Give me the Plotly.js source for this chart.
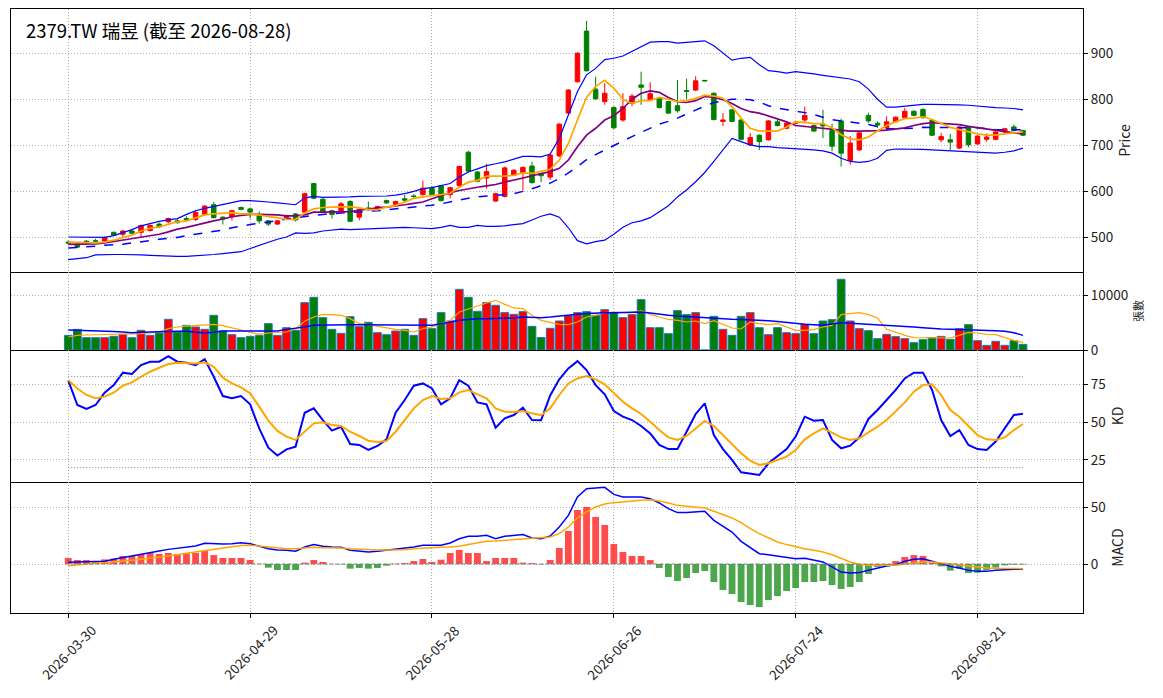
<!DOCTYPE html>
<html>
<head>
<meta charset="utf-8">
<script src="https://cdn.plot.ly/plotly-3.0.1.min.js"></script>
<style>
  html, body { margin: 0; padding: 0; background: #fff; }
  #chart { width: 1163px; height: 698px; }
</style>
</head>
<body>
<div id="chart"></div>
<script>
/* global Plotly */
const dates = [
  "2026-03-30", "2026-03-31", "2026-04-01", "2026-04-02", "2026-04-07", "2026-04-08", "2026-04-09", "2026-04-10",
  "2026-04-13", "2026-04-14", "2026-04-15", "2026-04-16", "2026-04-17", "2026-04-20", "2026-04-21", "2026-04-22",
  "2026-04-23", "2026-04-24", "2026-04-27", "2026-04-28", "2026-04-29", "2026-04-30", "2026-05-04", "2026-05-05",
  "2026-05-06", "2026-05-07", "2026-05-08", "2026-05-11", "2026-05-12", "2026-05-13", "2026-05-14", "2026-05-15",
  "2026-05-18", "2026-05-19", "2026-05-20", "2026-05-21", "2026-05-22", "2026-05-25", "2026-05-26", "2026-05-27",
  "2026-05-28", "2026-05-29", "2026-06-01", "2026-06-02", "2026-06-03", "2026-06-04", "2026-06-05", "2026-06-08",
  "2026-06-09", "2026-06-10", "2026-06-11", "2026-06-12", "2026-06-15", "2026-06-16", "2026-06-17", "2026-06-18",
  "2026-06-22", "2026-06-23", "2026-06-24", "2026-06-25", "2026-06-26", "2026-06-29", "2026-06-30", "2026-07-01",
  "2026-07-02", "2026-07-03", "2026-07-06", "2026-07-07", "2026-07-08", "2026-07-09", "2026-07-10", "2026-07-13",
  "2026-07-14", "2026-07-15", "2026-07-16", "2026-07-17", "2026-07-20", "2026-07-21", "2026-07-22", "2026-07-23",
  "2026-07-24", "2026-07-27", "2026-07-28", "2026-07-29", "2026-07-30", "2026-07-31", "2026-08-03", "2026-08-04",
  "2026-08-05", "2026-08-06", "2026-08-07", "2026-08-10", "2026-08-11", "2026-08-12", "2026-08-13", "2026-08-14",
  "2026-08-17", "2026-08-18", "2026-08-19", "2026-08-20", "2026-08-21", "2026-08-24", "2026-08-25", "2026-08-26",
  "2026-08-27", "2026-08-28",
];
const tickDates = ["2026-03-30", "2026-04-29", "2026-05-28", "2026-06-26", "2026-07-24", "2026-08-21"];

const open = [
  490, 485, 492, 493, 492, 511, 507, 514, 511, 515, 529, 534, 536, 541, 539, 550, 571, 544, 545, 565,
  562, 547, 536, 529, 543, 551, 555, 617, 583, 558, 556, 578, 544, 564, 564, 580, 572, 584, 590, 593,
  607, 612, 593, 613, 685, 642, 629, 579, 589, 635, 641, 655, 639, 631, 677, 770, 838, 948, 822, 795,
  782, 755, 791, 831, 799, 802, 795, 786, 819, 820, 841, 813, 752, 777, 755, 701, 722, 712, 751, 737,
  748, 755, 743, 746, 732, 753, 667, 690, 765, 748, 738, 751, 760, 774, 778, 754, 712, 712, 694, 740,
  703, 713, 713, 729, 740, 732,
];
const high = [
  493, 487, 494, 497, 502, 513, 516, 517, 528, 528, 532, 543, 541, 546, 560, 570, 577, 546, 560, 567,
  564, 556, 538, 537, 549, 553, 597, 618, 585, 560, 577, 581, 563, 578, 569, 582, 580, 592, 594, 623,
  612, 614, 610, 656, 688, 644, 660, 597, 654, 648, 654, 664, 641, 681, 748, 822, 902, 970, 849, 835,
  785, 813, 812, 860, 837, 804, 797, 842, 845, 850, 841, 815, 770, 779, 757, 727, 724, 755, 756, 750,
  752, 784, 745, 777, 747, 758, 720, 729, 771, 752, 763, 763, 781, 776, 780, 756, 727, 725, 742, 742,
  722, 726, 731, 738, 745, 734,
];
const low = [
  485, 477, 487, 489, 490, 503, 501, 507, 501, 513, 520, 530, 530, 535, 536, 548, 541, 528, 537, 559,
  541, 530, 525, 527, 541, 535, 553, 583, 553, 541, 554, 533, 537, 558, 562, 573, 570, 576, 585, 591,
  591, 578, 585, 610, 642, 620, 606, 577, 587, 633, 602, 617, 620, 625, 675, 768, 836, 860, 799, 788,
  736, 751, 785, 788, 797, 780, 768, 771, 800, 818, 839, 754, 742, 750, 711, 699, 690, 710, 741, 735,
  746, 748, 729, 716, 687, 654, 658, 688, 749, 738, 732, 749, 758, 763, 758, 720, 707, 690, 692, 696,
  701, 708, 711, 727, 730, 720,
];
const close = [
  488, 479, 488, 492, 500, 505, 514, 509, 526, 526, 523, 541, 532, 538, 554, 568, 543, 540, 558, 561,
  555, 536, 529, 536, 547, 538, 595, 585, 556, 550, 573, 535, 561, 560, 567, 575, 578, 581, 589, 607,
  593, 580, 608, 654, 644, 622, 643, 595, 651, 646, 652, 619, 634, 679, 746, 820, 900, 862, 801, 813,
  738, 784, 807, 826, 812, 782, 770, 775, 817, 840, 840, 756, 755, 752, 713, 717, 708, 753, 743, 748,
  750, 765, 731, 742, 698, 683, 705, 727, 753, 744, 751, 761, 774, 765, 760, 722, 719, 707, 740, 701,
  720, 718, 729, 736, 732, 722,
];

const ma5 = [
  490, 490, 489, 488, 490, 494, 500, 505, 514, 520, 523, 529, 534, 536, 542, 549, 551, 553, 554, 551,
  551, 549, 545, 543, 539, 539, 553, 562, 565, 566, 566, 567, 564, 561, 560, 566, 569, 577, 585, 588,
  590, 593, 596, 609, 620, 624, 633, 633, 633, 635, 640, 639, 643, 648, 668, 704, 755, 804, 828, 841,
  824, 800, 791, 797, 797, 804, 800, 795, 797, 802, 809, 807, 802, 784, 759, 737, 731, 731, 731, 740,
  751, 750, 747, 747, 738, 723, 714, 712, 718, 731, 743, 751, 758, 759, 762, 756, 747, 739, 734, 729,
  725, 722, 722, 725, 727, 729,
];
const ma10 = [
  485, 485, 485, 486, 488, 491, 494, 497, 500, 504, 507, 512, 518, 522, 527, 531, 536, 540, 545, 548,
  550, 550, 550, 549, 547, 547, 549, 555, 555, 555, 556, 556, 559, 562, 564, 566, 568, 571, 574, 577,
  584, 591, 597, 602, 606, 609, 612, 615, 620, 624, 629, 634, 638, 643, 650, 668, 697, 722, 737, 755,
  764, 780, 800, 813, 818, 815, 804, 795, 793, 797, 806, 804, 799, 791, 780, 773, 770, 764, 758, 751,
  743, 741, 739, 737, 736, 733, 731, 731, 731, 732, 733, 735, 738, 743, 747, 749, 748, 747, 745, 741,
  738, 735, 732, 730, 727, 725,
];
const ma20 = [
  477, 478, 480, 481, 483, 484, 485, 488, 490, 493, 496, 498, 500, 504, 507, 510, 512, 516, 521, 525,
  528, 531, 534, 537, 540, 543, 545, 548, 550, 552, 553, 554, 555, 556, 558, 560, 562, 564, 566, 567,
  570, 573, 577, 582, 585, 588, 590, 591, 593, 595, 600, 606, 612, 618, 628, 640, 654, 669, 680, 690,
  700, 709, 719, 728, 737, 746, 752, 759, 768, 777, 785, 793, 797, 800, 800, 799, 794, 786, 781, 777,
  774, 771, 767, 761, 756, 753, 751, 748, 745, 740, 736, 736, 736, 737, 739, 739, 739, 739, 739, 739,
  738, 736, 734, 734, 734, 734,
];
const bbUpper = [
  501, 501, 500, 500, 500, 504, 510, 517, 525, 530, 535, 538, 541, 550, 558, 563, 567, 572, 576, 580,
  580, 579, 577, 575, 573, 571, 586, 589, 587, 587, 588, 588, 589, 589, 590, 590, 592, 595, 600, 606,
  608, 612, 617, 631, 642, 649, 656, 660, 664, 670, 676, 676, 675, 681, 715, 766, 817, 853, 867, 886,
  889, 894, 904, 914, 924, 925, 925, 922, 924, 926, 927, 916, 900, 885, 889, 891, 875, 862, 860, 857,
  860, 858, 855, 852, 849, 846, 844, 838, 822, 800, 783, 783, 785, 787, 789, 789, 789, 788, 788, 787,
  785, 784, 782, 781, 780, 777,
];
const bbLower = [
  452, 454, 456, 462, 463, 463, 463, 463, 462, 461, 460, 459, 459, 459, 460, 461, 463, 465, 467, 469,
  476, 483, 490, 496, 501, 510, 509, 510, 514, 516, 518, 517, 518, 519, 520, 521, 521, 522, 521, 520,
  519, 522, 526, 522, 522, 526, 524, 524, 525, 528, 530, 538, 546, 551, 544, 521, 493, 486, 491, 494,
  507, 522, 532, 536, 543, 556, 569, 588, 603, 621, 641, 665, 690, 715, 708, 701, 697, 697, 695, 694,
  692, 691, 690, 688, 683, 672, 665, 663, 665, 672, 689, 692, 692, 692, 691, 690, 689, 688, 687, 686,
  685, 684, 683, 685, 688, 694,
];

const volume = [
  2700, 3800, 2270, 2270, 2270, 2520, 2890, 2270, 3620, 2700, 3130, 5650, 3320, 4540, 4240, 3810, 6390, 3500, 2820, 2270,
  2520, 2700, 4850, 2700, 4110, 3620, 8720, 9700, 5960, 3810, 3070, 6140, 4300, 5100, 3190, 2820, 3500, 3810, 2700, 5770,
  3930, 6880, 5340, 11170, 9700, 7120, 8720, 8230, 6880, 6570, 7060, 4360, 2300, 4000, 5340, 6320, 6880, 7060, 6390, 7430,
  6880, 5960, 6510, 9270, 4110, 4110, 3010, 7250, 6510, 6880, 0, 6200, 3810, 2700, 6200, 6880, 4110, 2820, 4110, 3190,
  3010, 4730, 3010, 5340, 5590, 13020, 5340, 3930, 3560, 2090, 2890, 2460, 2090, 1350, 1900, 2270, 2520, 1960, 3930, 4670,
  1720, 860, 1600, 860, 1720, 1040,
];
const volMa5 = [
  2390, 2700, 2760, 2800, 2820, 2820, 2820, 2900, 3000, 3150, 3320, 3930, 4240, 4400, 4540, 4640, 4730, 4500, 4110, 3810,
  3350, 2890, 3130, 3230, 3320, 3930, 5280, 6080, 6570, 6500, 6390, 5770, 4850, 4670, 4360, 4110, 3810, 3620, 3320, 3930,
  4240, 4850, 5460, 7000, 7610, 8100, 8660, 9150, 8410, 7740, 7610, 6390, 5460, 5030, 4730, 4670, 5160, 6080, 6390, 6880,
  7000, 6880, 6880, 7250, 6570, 6080, 5650, 5460, 5160, 5340, 4850, 5400, 4670, 4050, 3870, 5160, 4850, 4670, 4850, 4240,
  3620, 3620, 3750, 4240, 4540, 6510, 6690, 6880, 6510, 5890, 3810, 3190, 2700, 2270, 2270, 2210, 2210, 2210, 2700, 3250,
  3130, 2890, 2820, 2270, 1780, 1350,
];
const volMa20 = [
  3680, 3650, 3600, 3550, 3500, 3400, 3300, 3190, 3250, 3320, 3320, 3400, 3440, 3440, 3300, 3130, 3250, 3500, 3500, 3500,
  3500, 3500, 3500, 3500, 3800, 4000, 4240, 4540, 4600, 4650, 4670, 4670, 4670, 4670, 4650, 4620, 4600, 4570, 4540, 4540,
  4540, 4850, 5150, 5460, 5600, 5770, 5770, 5770, 5800, 5890, 6080, 6000, 5960, 6080, 6200, 6400, 6570, 6700, 6820, 6850,
  6880, 6940, 7000, 7000, 6800, 6570, 6400, 6260, 6150, 6080, 5950, 5770, 5700, 5650, 5620, 5590, 5500, 5400, 5250, 5030,
  4900, 4730, 4650, 4540, 4800, 5030, 4950, 4850, 4750, 4670, 4600, 4540, 4400, 4240, 4100, 3930, 3870, 3810, 3780, 3750,
  3700, 3620, 3530, 3440, 3190, 2700,
];

const kLine = [
  77.2, 61.2, 58.6, 61.2, 69.3, 74.3, 82.5, 81.6, 87.5, 89.7, 89.7, 93.4, 89.7, 89, 87.5, 91.4, 79.8, 67.1, 65.6, 67.1,
  61.6, 45.8, 33.1, 27.9, 32, 33.8, 56.1, 59, 51.3, 44.3, 46.9, 35.5, 34.9, 31.6, 34.2, 38.6, 56.1, 64.5, 73.9, 75.4,
  72.1, 61.6, 65.6, 77.6, 73.9, 62.9, 61.6, 46.3, 52.4, 54.6, 59.4, 51.3, 51.2, 67.5, 78.1, 85.3, 90.1, 84.2, 74.3, 68.2,
  57.2, 53.5, 51.3, 47.4, 42.5, 34.9, 32.2, 32.2, 43.6, 55.3, 62.3, 41.4, 32.2, 25, 16.9, 16.2, 15.1, 22.8, 27.6, 32.2,
  40.4, 53.5, 50.9, 51.3, 38.2, 32.7, 34.4, 39.9, 52, 57.9, 64.5, 71.1, 78.7, 82.5, 82.5, 71.1, 51.3, 40.8, 44.7, 34.9,
  32.2, 31.6, 37.1, 45.8, 54.6, 55.5,
];
const dLine = [
  77.6, 72.1, 67.8, 65.6, 66.7, 69.3, 73.9, 76.1, 79.8, 83.1, 85.7, 88.2, 89, 89, 88.6, 89.3, 86.4, 79.2, 75.4, 72.8,
  68.9, 60.1, 50.9, 44.1, 40.4, 38.2, 43.6, 49.1, 49.8, 48, 47.4, 43.6, 40.8, 37.7, 36.8, 37.5, 43.6, 51.3, 59, 64.5,
  67.1, 65.1, 65.6, 69.5, 71.1, 68.2, 65.6, 59, 56.8, 56.6, 57.2, 55.7, 54.5, 59, 67.8, 75.4, 78.7, 80.3, 78.1, 74.8,
  68.9, 63.4, 59, 55.3, 50.2, 44.7, 39.9, 38.2, 40.8, 45.8, 50.7, 47.4, 41.4, 35.3, 29.4, 24.6, 21.7, 22.8, 25, 27.2,
  31.6, 38.6, 42.5, 45.8, 43, 39.9, 38.2, 39.3, 43.2, 46.9, 51.3, 56.8, 62.9, 70, 74.3, 74.8, 67.8, 57.9, 53.5, 47.4,
  41.4, 38.6, 38.2, 39.9, 44.7, 48.7,
];

const macdHist = [
  5.3, 3.5, 3.5, 1.8, 4.1, 4.7, 7.1, 7.1, 8.8, 9.7, 8.8, 9.7, 8.8, 9.4, 9.7, 11.5, 7.9, 5.3, 5.3, 5.3,
  3.5, 0.2, -3.2, -5.3, -5.3, -5.3, 1.2, 3.5, 1.8, 0.1, -0.2, -4.1, -3.5, -4.1, -3.5, -1.5, 0.3, 0.9, 2.6, 4.4,
  1.8, 3.8, 9.7, 12.4, 9.7, 9.7, 2.6, 5.3, 5.3, 5.3, 1.2, 0.8, -0.3, 3.5, 14.1, 29.1, 47.6, 50.3, 41.5, 34.4,
  17.6, 10.6, 7.1, 7.1, 3.5, -3.5, -11.5, -15, -12.3, -7.9, -6.2, -15.9, -22.9, -26.5, -33.5, -36.2, -37.9, -31.8, -28.2, -23.8,
  -21.2, -15.9, -15.9, -15, -18.5, -22, -20.3, -15.9, -8.8, -2.6, -1, 2.6, 6.2, 7.9, 7.1, 0.9, -2.1, -5.9, -4.1, -7.9,
  -7.6, -5.6, -3.2, -1.2, -0.6, -0.3,
];
const macdDif = [
  1.5, 1.8, 1.8, 1.8, 2.4, 4.1, 5.6, 7.1, 9.1, 10.6, 11.5, 12.9, 13.8, 14.7, 15.9, 18.2, 17.6, 17.6, 17.9, 18.8,
  17.9, 15.9, 13.5, 12.3, 12.1, 11.2, 15, 17.1, 15.6, 15, 14.7, 12.1, 11.5, 10.6, 11.2, 12.1, 13.5, 14.1, 15, 16.5,
  16.5, 16.5, 18.5, 22.3, 24.4, 24.4, 25.3, 22.3, 24.4, 25.3, 25.9, 22.9, 22.3, 24.7, 32.6, 42.9, 59.1, 66.4, 67, 67.6,
  61.4, 59.1, 59.1, 59.1, 57.6, 53.8, 48.8, 45.3, 45.3, 45.9, 46.5, 38.5, 33.2, 28.2, 20, 14.4, 9.1, 8.2, 7.1, 5.9,
  4.7, 5, 3.2, 1.8, -2.6, -7.1, -7.9, -7.6, -5.6, -3.5, -1.8, -0.6, 2.4, 4.1, 4.7, 2.4, 0.3, -2.1, -3.5, -5.6,
  -6.5, -6.5, -5.6, -5, -4.7, -4.7,
];
const macdDea = [
  -1.5, -0.6, 0, 0.6, 1.2, 1.8, 2.4, 3.2, 4.1, 5, 5.9, 7.1, 8.2, 9.4, 10.6, 12.1, 13.5, 14.4, 15.3, 16.2,
  16.5, 15.9, 15, 14.1, 13.5, 13.5, 14.4, 14.7, 14.4, 14.4, 14.1, 13.5, 12.9, 12.6, 12.3, 12.3, 12.3, 12.6, 13.5, 14.1,
  14.1, 14.7, 15, 15.6, 17.1, 18.5, 20, 20.3, 20.9, 21.5, 22.3, 22.9, 22.9, 23.8, 26.8, 32.6, 40.6, 45.9, 50.3, 52.9,
  54.1, 55, 55.6, 56.2, 56.7, 55.6, 53.8, 51.7, 50.9, 50.3, 49.4, 46.5, 43.5, 40.6, 36.5, 31.2, 26.8, 22.9, 19.4, 17.1,
  15, 13.5, 12.1, 10.6, 8.2, 4.7, 1.8, -0.3, -1.2, -1.2, -1.2, -1.2, 0, 1.2, 1.8, 1.8, 1.2, 0, -0.6, -1.8,
  -2.9, -3.5, -3.8, -4.1, -4.1, -4.1,
];

const FONT = "Noto Sans CJK TC, Noto Sans, sans-serif";
const gridStyle = {
  showgrid: true,
  gridcolor: "#b0b0b0",
  griddash: "1px,2px",
  gridwidth: 1,
  zeroline: false,
  linecolor: "black",
  linewidth: 1,
};

function line(y, color, yaxis, xaxis, width, dash) {
  return {
    type: "scatter",
    mode: "lines",
    x: dates,
    y,
    xaxis,
    yaxis,
    line: { color, width, dash: dash || "solid" },
    hoverinfo: "skip",
    showlegend: false,
  };
}

function getTraces() {
  const volColors = close.map((c, i) => (c >= open[i] ? "red" : "green"));
  const histColors = macdHist.map((v) =>
    v >= 0 ? "rgba(255,0,0,0.7)" : "rgba(0,128,0,0.7)",
  );
  return [
    line(bbUpper, "blue", "y", "x", 1.2),
    line(bbLower, "blue", "y", "x", 1.2),
    line(ma20, "blue", "y", "x", 1.5, "dash"),
    line(ma10, "purple", "y", "x", 1.7),
    line(ma5, "orange", "y", "x", 1.7),
    {
      type: "candlestick",
      x: dates,
      open,
      high,
      low,
      close,
      xaxis: "x",
      yaxis: "y",
      whiskerwidth: 0,
      increasing: { line: { color: "red", width: 1 }, fillcolor: "red" },
      decreasing: { line: { color: "green", width: 1 }, fillcolor: "green" },
      showlegend: false,
    },
    {
      type: "bar",
      x: dates,
      y: volume,
      xaxis: "x2",
      yaxis: "y2",
      width: 0.85,
      marker: { color: volColors, line: { color: "#1f77b4", width: 1 } },
      showlegend: false,
    },
    line(volMa5, "orange", "y2", "x2", 1.2),
    line(volMa20, "blue", "y2", "x2", 1.5),
    line(kLine, "blue", "y3", "x3", 2),
    line(dLine, "orange", "y3", "x3", 2),
    {
      type: "bar",
      x: dates,
      y: macdHist,
      xaxis: "x4",
      yaxis: "y4",
      width: 0.75,
      marker: { color: histColors, line: { width: 0 } },
      showlegend: false,
    },
    line(macdDif, "blue", "y4", "x4", 1.5),
    line(macdDea, "orange", "y4", "x4", 1.5),
  ];
}

function yAxis(domain, range, tickvals, title, titleSize) {
  return {
    ...gridStyle,
    showline: true,
    mirror: true,
    domain,
    range,
    tickvals,
    tickformat: "d",
    side: "right",
    ticks: "outside",
    ticklen: 4,
    tickcolor: "black",
    tickfont: { size: 13.5, color: "#222" },
    title: { text: title, font: { size: titleSize, color: "#222" }, standoff: 8 },
  };
}

// only the top panel mirrors its x line, so the separators are drawn once
function xAxis(anchor, isBottom) {
  return {
    ...gridStyle,
    showline: true,
    mirror: anchor === "y",
    type: "category",
    anchor,
    range: [-6.3, 111.6],
    tickvals: tickDates,
    ticks: isBottom ? "outside" : "",
    ticklen: 4,
    tickcolor: "black",
    showticklabels: false,
    rangeslider: { visible: false },
    ...(isBottom ? {} : { matches: "x4" }),
  };
}

// rotated date labels, centred under their ticks
function dateLabels() {
  return tickDates.map((d) => ({
    text: d,
    xref: "x4",
    yref: "paper",
    x: d,
    y: -0.008,
    xanchor: "center",
    yanchor: "top",
    textangle: -45,
    showarrow: false,
    font: { size: 13.5, color: "#222", family: FONT },
  }));
}

function getLayout() {
  return {
    width: 1163,
    height: 698,
    font: { family: FONT, color: "#222" },
    paper_bgcolor: "white",
    plot_bgcolor: "white",
    margin: { l: 11, r: 80, t: 9, b: 85 },
    showlegend: false,
    xaxis: xAxis("y", false),
    xaxis2: xAxis("y2", false),
    xaxis3: xAxis("y3", false),
    xaxis4: xAxis("y4", true),
    yaxis: yAxis([0.5646, 1], [425, 996], [500, 600, 700, 800, 900], "Price", 14),
    yaxis2: yAxis([0.4354, 0.5646], [0, 14365], [0, 10000], "張數", 11),
    yaxis3: yAxis([0.2169, 0.4354], [10.5, 97.4], [25, 50, 75], "KD", 14),
    yaxis4: yAxis([0, 0.2169], [-43.2, 72.3], [0, 50], "MACD", 14),
    shapes: [
      { type: "line", xref: "x3", yref: "y3", x0: 0, x1: 105, y0: 80, y1: 80,
        line: { color: "#808080", width: 1, dash: "1px,2px" } },
      { type: "line", xref: "x3", yref: "y3", x0: 0, x1: 105, y0: 20, y1: 20,
        line: { color: "#808080", width: 1, dash: "1px,2px" } },
      { type: "line", xref: "x4", yref: "y4", x0: -0.3, x1: 105.4, y0: 0, y1: 0,
        line: { color: "#808080", width: 1, dash: "4px,2px" } },
    ],
    annotations: [
      {
        text: "2379.TW 瑞昱 (截至 2026-08-28)",
        xref: "paper",
        yref: "paper",
        x: 0.012,
        y: 0.9652,
        xanchor: "left",
        yanchor: "middle",
        showarrow: false,
        font: { size: 18.5, color: "black", family: FONT },
      },
      ...dateLabels(),
    ],
  };
}

Plotly.newPlot(document.getElementById("chart"), getTraces(), getLayout(), {
  displayModeBar: false,
  staticPlot: true,
});
</script>
</body>
</html>
